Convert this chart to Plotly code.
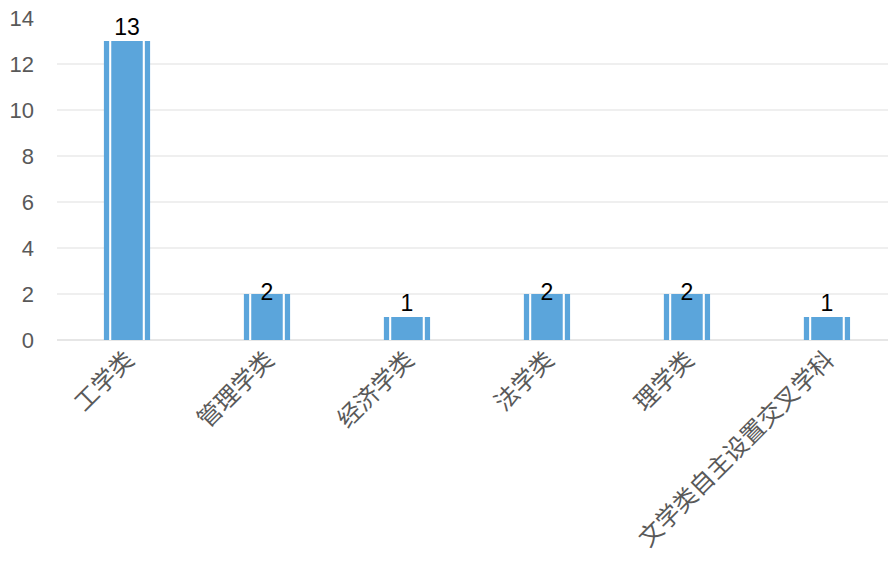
import plotly.graph_objects as go

categories = ["工学类", "管理学类", "经济学类", "法学类", "理学类", "文学类自主设置交叉学科"]
counts = [13, 2, 1, 2, 2, 1]
y_ticks = [0, 2, 4, 6, 8, 10, 12, 14]
label_positions = ["top center", "middle center", "top center", "middle center", "middle center", "top center"]

blue = "#5BA5DB"
font_family = "Liberation Sans, Arial, Noto Sans CJK SC, sans-serif"

fig = go.Figure()

# Outer bar, white inset stripe, and inner fill give the striped column look
fig.add_trace(go.Bar(x=categories, y=counts, width=0.33, marker=dict(color=blue, line=dict(width=0)),
                     hoverinfo="skip", showlegend=False))
fig.add_trace(go.Bar(x=categories, y=counts, width=0.255, marker=dict(color="white", line=dict(width=0)),
                     hoverinfo="skip", showlegend=False))
fig.add_trace(go.Bar(x=categories, y=counts, width=0.225, marker=dict(color=blue, line=dict(width=0)),
                     showlegend=False))

# Value labels at the top of each column
fig.add_trace(go.Scatter(x=categories, y=counts, mode="text", text=[str(v) for v in counts],
                         textposition=label_positions,
                         textfont=dict(size=23, color="#000000", family=font_family),
                         cliponaxis=False, hoverinfo="skip", showlegend=False))

fig.update_layout(
    width=888, height=564,
    margin=dict(l=57, r=0, t=18, b=224),
    barmode="overlay",
    plot_bgcolor="white", paper_bgcolor="white",
    font=dict(family=font_family, color="#595959"),
    xaxis=dict(range=[-0.5, 5.436], tickangle=-45, tickfont=dict(size=24, color="#595959"),
               showgrid=False, showline=False, ticks="", zeroline=False),
    yaxis=dict(range=[0, 14], tickvals=y_ticks, tickfont=dict(size=22, color="#595959"),
               showgrid=True, gridcolor="#EFEFEF", gridwidth=1.5,
               zeroline=True, zerolinecolor="#E6E6E6", zerolinewidth=1.5,
               showline=False, ticks="", ticklabelstandoff=22),
)

fig.write_html("out.html")
